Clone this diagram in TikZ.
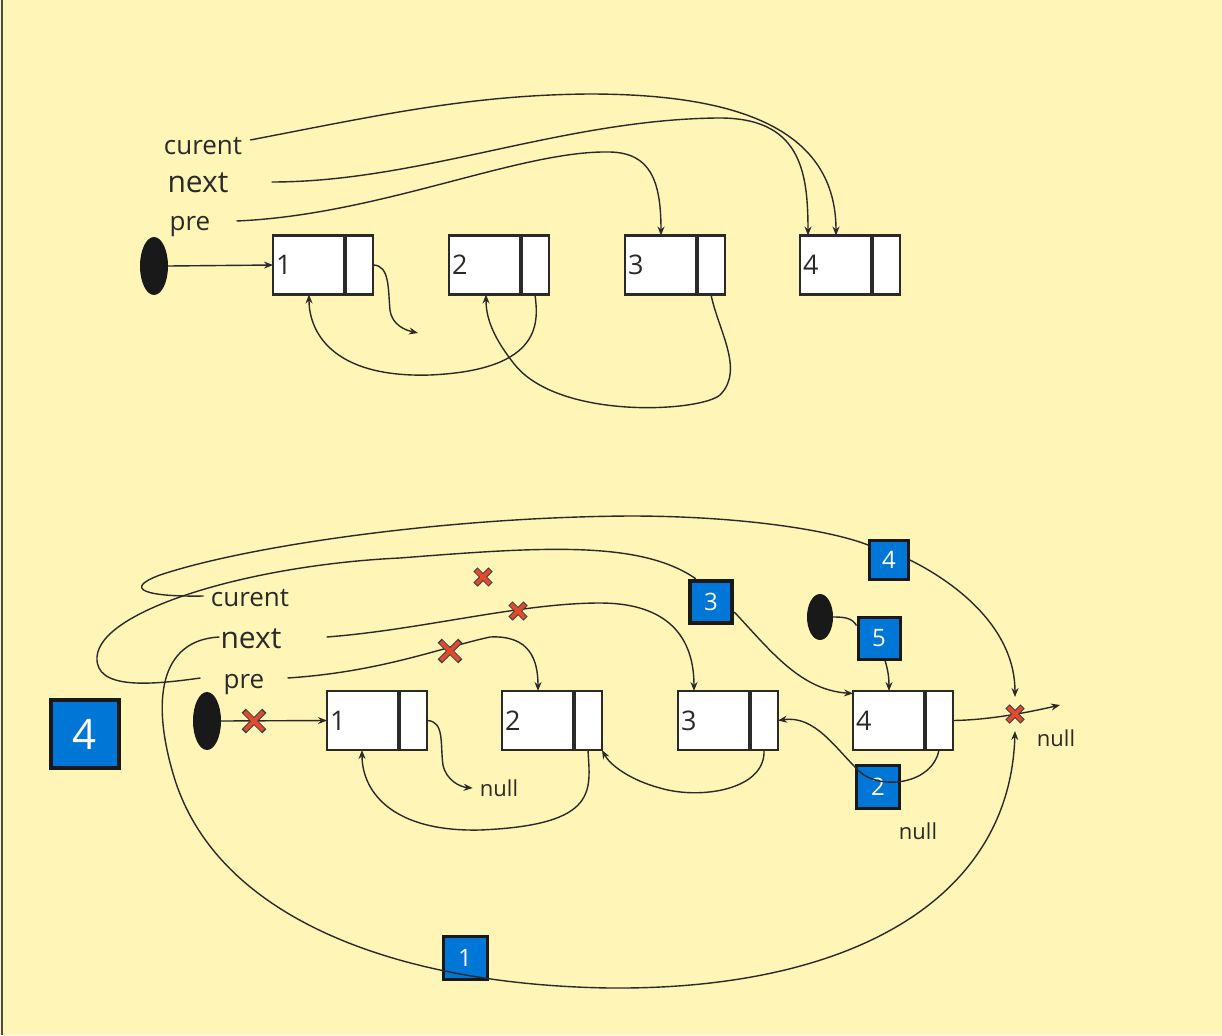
\documentclass[tikz,border=0pt]{standalone}
\usepackage{fontspec}
\setmainfont{Open Sans}
\usetikzlibrary{arrows.meta,shapes.geometric,calc}
\definecolor{bg}{HTML}{FFF5B6}
\definecolor{ink}{HTML}{2A2A2A}
\definecolor{badgeblue}{HTML}{0077D6}
\definecolor{xred}{HTML}{E2492E}
\tikzset{
  cell/.style={draw=ink, fill=white, line width=2.5pt, outer sep=0pt, minimum height=59pt, minimum width=72pt,
    text width=66pt, inner xsep=1pt, inner ysep=0pt, align=left, anchor=west, font=\fontsize{27}{30}\selectfont},
  cellptr/.style={draw=ink, fill=white, line width=2.5pt, outer sep=0pt, minimum height=59pt, minimum width=28pt,
    inner sep=0pt, anchor=west},
  blob/.style={ellipse, fill=black!90, minimum width=28pt, minimum height=58pt, inner sep=0pt},
  lbl/.style={inner sep=1pt, font=\fontsize{26}{30}\selectfont},
  lblbig/.style={inner sep=1pt, font=\fontsize{30}{34}\selectfont},
  nulllbl/.style={inner sep=1pt, font=\fontsize{22}{26}\selectfont},
  badge/.style={draw=black!90, line width=3pt, fill=badgeblue, text=white, minimum width=42pt,
    minimum height=42pt, inner sep=0pt, font=\fontsize{24}{24}\selectfont},
  conn/.style={draw=ink, line width=1.4pt, -{Stealth[length=9pt,width=7pt]}},
  plainline/.style={draw=ink, line width=1.4pt},
  xcross/.pic={
    \draw[line width=6pt, black!75] (-7.6,-7.6) -- (7.6,7.6) (-7.6,7.6) -- (7.6,-7.6);
    \draw[line width=3.9pt, xred] (-6.8,-6.8) -- (6.8,6.8) (-6.8,6.8) -- (6.8,-6.8);
  }
}
\newcommand{\mkcell}[4]{%
  \node[cell] (#1) at (#2,#3) {#4};
  \node[cellptr] (#1p) at (#1.east) {};
  \draw[line width=4.5pt, ink] (#1.north east) -- (#1.south east);
}
\begin{document}
\begin{tikzpicture}[x=1pt,y=-1pt, every node/.append style={text=ink}]
\useasboundingbox (0,0) rectangle (1222,1035);
\fill[bg] (0,0) rectangle (1222,1035);
\draw[black!70, line width=2pt] (2,0) -- (2,1035);

% ---------------- top ----------------
\mkcell{t1}{273}{265}{1}
\mkcell{t2}{449}{265}{2}
\mkcell{t3}{625}{265}{3}
\mkcell{t4}{800}{265}{4}
\node[blob] (te) at (154,266) {};
\node[lbl] (tcur) at (203,146) {curent};
\node[lblbig] (tnext) at (198,183) {next};
\node[lbl] (tpre) at (190,227) {pre};

\draw[conn] (te.east) -- (t1.west);
\draw[conn] ($(tcur.east)+(7,-6)$) .. controls (380,115) and (470,95) .. (589,94)
  .. controls (740,94) and (836,130) .. ($(t4.north west)+(36,0)$);
\draw[conn] ($(tnext.east)+(42,-1)$) .. controls (420,182) and (560,120) .. (717,118)
  .. controls (800,117) and (808,170) .. ($(t4.north west)+(8,0)$);
\draw[conn] ($(tpre.east)+(25,-6)$) .. controls (380,215) and (520,150) .. (610,152)
  .. controls (650,153) and (661,180) .. ($(t3.north west)+(36,0)$);
\coordinate (tnull) at (418,333);
\draw[conn] (t1p.east) .. controls (390,265) and (388,290) .. (390,310)
  .. controls (392,325) and (405,330) .. (tnull);
\draw[conn] (t2p.south) .. controls (538,320) and (545,370) .. (430,375)
  .. controls (330,378) and (309,330) .. ($(t1.south west)+(36,0)$);
\draw[conn] (t3p.south) .. controls (718,330) and (745,370) .. (720,395)
  .. controls (700,412) and (560,420) .. (515,365)
  .. controls (495,340) and (486,320) .. ($(t2.south west)+(37,0)$);

% ---------------- bottom ----------------
\mkcell{b1}{327}{720.5}{1}
\mkcell{b2}{502}{720.5}{2}
\mkcell{b3}{678}{720.5}{3}
\mkcell{b4}{853}{720.5}{4}
\node[blob] (be2) at (207,721) {};
\node[blob, minimum width=26pt, minimum height=46pt] (be3) at (820,617) {};
\node[lbl] (bcur) at (250,598) {curent};
\node[lblbig] (bnext) at (251,639) {next};
\node[lbl] (bpre) at (244,685) {pre};
\node[nulllbl] (nul1) at (499,788) {null};
\node[nulllbl] (nul2) at (1056,738) {null};
\node[nulllbl] (nul3) at (918,831) {null};

\node[badge, minimum width=68pt, minimum height=68pt, line width=4.5pt, font=\fontsize{42}{42}\selectfont] (bbig) at (85,734) {4};
\node[badge, line width=4.5pt] (bb3) at (711,602) {3};
\node[badge, minimum width=39pt, minimum height=39pt] (bb4) at (889,560) {4};
\node[badge] (bb5) at (879,638) {5};
\node[badge, minimum width=43pt, minimum height=43pt] (bb2) at (878,787) {2};
\node[badge, minimum width=44pt, minimum height=43pt] (bb1) at (465,958) {1};

\coordinate (xn) at (1015,714);

\draw[conn] (be2.east) -- (b1.west);
% curent loop -> badge 4 -> null
\draw[plainline] ($(bcur.west)+(-6,-2)$) .. controls (150,597) and (120,590) .. (160,575)
  .. controls (250,545) and (450,517) .. (630,516)
  .. controls (740,516) and (830,530) .. ($(bb4.north west)+(0,6)$);
\draw[conn] (bb4.east) .. controls (960,585) and (1015,630) .. ($(xn)+(0,-17)$);
% pre loop -> badge 3 -> box 4
\draw[plainline] ($(bpre.west)+(-22,-7)$) .. controls (150,685) and (95,690) .. (97,657)
  .. controls (100,610) and (250,565) .. (400,558)
  .. controls (540,547) and (640,540) .. ($(bb3.north west)+(8,0)$);
\draw[conn] ($(bb3.east)+(0,10)$) .. controls (770,650) and (800,690) .. ($(b4.west)+(0,-27)$);
% next loop -> badge 1 -> null
\draw[conn] ($(bnext.west)+(0,-2)$) .. controls (160,640) and (150,700) .. (175,780)
  .. controls (220,920) and (400,985) .. (610,988)
  .. controls (850,990) and (1010,900) .. ($(xn)+(0,17)$);
% next -> box 3
\draw[conn] ($(bnext.east)+(44,-2)$) .. controls (420,630) and (520,603) .. (600,603)
  .. controls (660,603) and (694,630) .. ($(b3.north west)+(16,0)$);
% pre -> box 2
\draw[conn] ($(bpre.east)+(22,-7)$) .. controls (380,672) and (440,648) .. (490,637)
  .. controls (530,635) and (538,660) .. ($(b2.north west)+(36,0)$);
% box pointers
\draw[conn] (b1p.east) .. controls (445,721) and (440,745) .. (443,765)
  .. controls (446,780) and (460,787) .. ($(nul1.west)+(-6,0)$);
\draw[conn] (b2p.south) .. controls (590,790) and (600,825) .. (480,830)
  .. controls (390,832) and (362,790) .. ($(b1.south west)+(35,0)$);
\draw[conn] (b3p.south) .. controls (766,790) and (700,800) .. (660,788)
  .. controls (630,780) and (610,765) .. (b2p.south east);
\draw[conn] (b4p.south) .. controls (932,785) and (880,790) .. (860,772)
  .. controls (835,748) and (815,715) .. (b3p.east);
\draw[conn] (b4p.east) .. controls (990,720) and (1030,712) .. ($(xn)+(45,-9)$);
% ellipse -> badge 5 -> box 4
\draw[plainline] (be3.east) .. controls (845,617) and (852,618) .. ($(bb5.north west)+(0,10)$);
\draw[conn] ($(bb5.south)+(6,0)$) .. controls (888,670) and (889,678) .. ($(b4.north west)+(36,0)$);

% crosses
\pic at (483,577) {xcross};
\pic at (518,611) {xcross};
\pic[scale=1.35] at (450,651) {xcross};
\pic[scale=1.35] at (254,721) {xcross};
\pic at (1015,714) {xcross};
\end{tikzpicture}
\end{document}
